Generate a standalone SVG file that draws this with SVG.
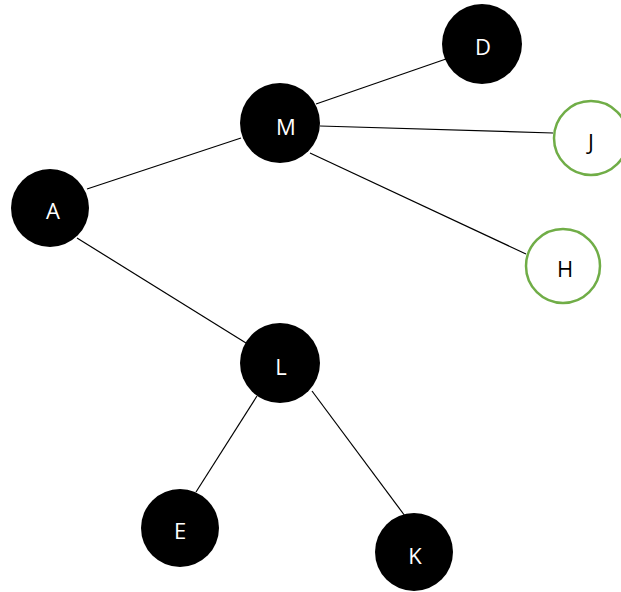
<svg xmlns="http://www.w3.org/2000/svg" width="621" height="592" viewBox="0 0 621 592">
<style>
.n{fill:#000;stroke:none}
.g{fill:#fff;stroke:#70ad47;stroke-width:2.5}
.t{font-family:"Open Sans","Liberation Sans",sans-serif;font-size:22px;text-anchor:middle;dominant-baseline:central}
.w{fill:#fff}
.b{fill:#000}
.e{stroke:#000;stroke-width:1.2;fill:none}
</style>
<rect width="621" height="592" fill="#fff"/>
<g id="connectors">
<line class="e" x1="446" y1="59" x2="316" y2="104"/>
<line class="e" x1="320" y1="126" x2="553" y2="133"/>
<line class="e" x1="310" y1="153" x2="526" y2="254"/>
<line class="e" x1="87" y1="189" x2="241" y2="138"/>
<line class="e" x1="77" y1="238" x2="246" y2="343"/>
<line class="e" x1="257" y1="396" x2="196" y2="492"/>
<line class="e" x1="312" y1="391" x2="405" y2="516"/>
</g>
<g id="node-D"><circle class="n" cx="482" cy="44" r="40"/><text class="t w" x="483" y="46">D</text></g>
<g id="node-M"><circle class="n" cx="280" cy="123" r="40"/><text class="t w" x="286" y="126">M</text></g>
<g id="node-J"><circle class="g" cx="591" cy="138" r="37"/><text class="t b" x="591" y="141">J</text></g>
<g id="node-A"><circle class="n" cx="50" cy="208" r="39"/><text class="t w" x="53" y="210">A</text></g>
<g id="node-H"><circle class="g" cx="563" cy="266" r="37"/><text class="t b" x="565" y="268">H</text></g>
<g id="node-L"><circle class="n" cx="280" cy="363" r="40"/><text class="t w" x="281" y="366">L</text></g>
<g id="node-E"><circle class="n" cx="180" cy="528" r="39"/><text class="t w" x="180" y="530">E</text></g>
<g id="node-K"><circle class="n" cx="414" cy="552" r="39"/><text class="t w" x="415" y="555">K</text></g>
</svg>
